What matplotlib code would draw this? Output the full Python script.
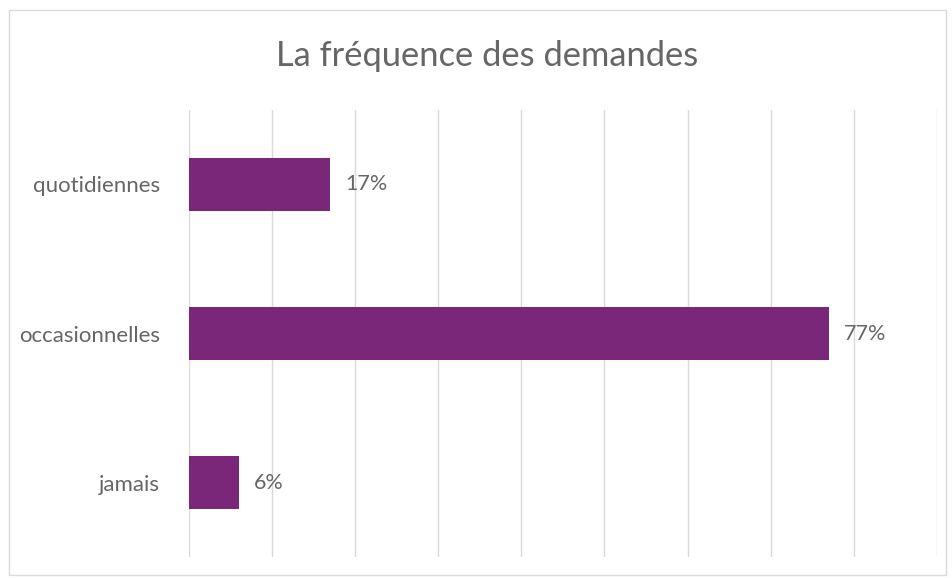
import matplotlib.pyplot as plt
import matplotlib.patches as mpatches

# Data
categories = ['jamais', 'occasionnelles', 'quotidiennes']
values = [0.06, 0.77, 0.17]
labels = ['6%', '77%', '17%']

bar_color = '#7B2779'
text_color = '#666666'
grid_color = '#D9D9D9'

plt.rcParams['font.family'] = ['Lato', 'DejaVu Sans']

fig = plt.figure(figsize=(9.52, 5.78), dpi=100)
ax = fig.add_axes([0.1985, 0.0363, 0.7855, 0.7734])

ypos = range(len(categories))
ax.barh(ypos, values, height=0.35, color=bar_color, zorder=3)

for y, v, lab in zip(ypos, values, labels):
    ax.annotate(lab, (v, y), xytext=(11, 0), textcoords='offset points',
                va='center', ha='left', fontsize=15.5, color=text_color)

ax.set_xlim(0, 0.9)
ax.set_ylim(-0.5, 2.5)
ax.set_xticks([i / 10 for i in range(10)])
ax.set_xticklabels([])
ax.set_yticks(list(ypos))
ax.set_yticklabels(categories, fontsize=16, color=text_color)
ax.tick_params(axis='both', length=0)
ax.tick_params(axis='y', pad=21)
ax.xaxis.grid(True, color=grid_color, linewidth=1.0, zorder=0)
for s in ax.spines.values():
    s.set_visible(False)

fig.text(0.512, 0.903, 'La fréquence des demandes', ha='center', va='center',
         fontsize=24.8, color=text_color)

# outer border
fig.patches.append(mpatches.Rectangle((0.009, 0.005), 0.985, 0.977,
                                      transform=fig.transFigure, fill=False,
                                      edgecolor=grid_color, linewidth=1))

fig.savefig('out.png', dpi=100)
